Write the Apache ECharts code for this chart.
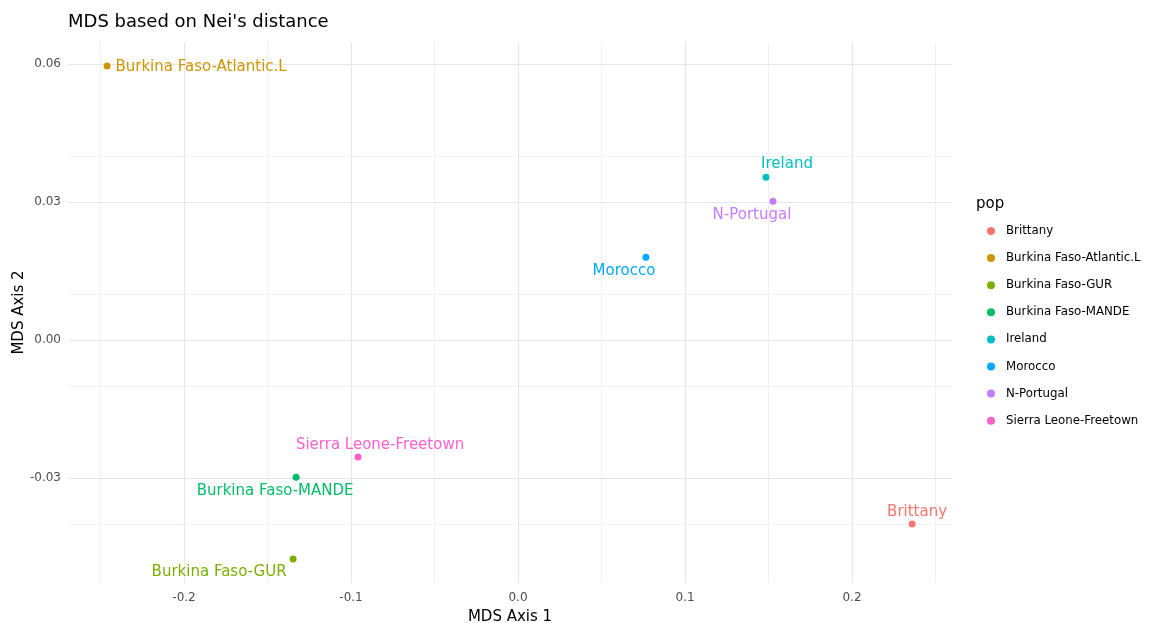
<!DOCTYPE html>
<html>
<head>
<meta charset="utf-8">
<script src="https://cdn.jsdelivr.net/npm/echarts@6/dist/echarts.min.js"></script>
<style>html,body{margin:0;padding:0;background:#fff}#c{width:1158px;height:623px}</style>
</head>
<body>
<div id="c"></div>
<script>
var populations = ["Brittany","Burkina Faso-Atlantic.L","Burkina Faso-GUR","Burkina Faso-MANDE","Ireland","Morocco","N-Portugal","Sierra Leone-Freetown"];
var axis1 = [0.236, -0.2461, -0.1347, -0.1329, 0.1485, 0.0766, 0.1527, -0.0958];
var axis2 = [-0.0400, 0.0596, -0.0476, -0.0298, 0.0354, 0.0180, 0.0302, -0.0254];
var xMajorTicks = [-0.2, -0.1, 0.0, 0.1, 0.2];
var xMinorTicks = [-0.25, -0.15, -0.05, 0.05, 0.15, 0.25];
var yMajorTicks = [-0.03, 0.00, 0.03, 0.06];
var yMinorTicks = [-0.045, -0.015, 0.015, 0.045];

var colors = ["#F8766D","#CD9600","#7CAE00","#00BE67","#00BFC4","#00A9FF","#C77CFF","#FF61CC"];
// label centre offsets (px) relative to each point, mimicking ggrepel placement
var labelOffsets = [[5,-12],[94,1],[-74,13],[-21,14],[21,-13],[-22,14],[-21,14],[22,-12]];
var FONT = "DejaVu Sans";

var gridLines = [];
xMinorTicks.forEach(function(v){ gridLines.push({xAxis:v, lineStyle:{color:"#f1f1f1", width:1, type:"solid"}}); });
yMinorTicks.forEach(function(v){ gridLines.push({yAxis:v, lineStyle:{color:"#f1f1f1", width:1, type:"solid"}}); });
xMajorTicks.forEach(function(v){ gridLines.push({xAxis:v, lineStyle:{color:"#e6e6e6", width:1.2, type:"solid"}}); });
yMajorTicks.forEach(function(v){ gridLines.push({yAxis:v, lineStyle:{color:"#e6e6e6", width:1.2, type:"solid"}}); });

var series = [{
  type: "scatter", data: [], silent: true, z: 1,
  markLine: { silent: true, symbol: ["none","none"], label: {show:false}, animation:false, data: gridLines }
}];
populations.forEach(function(p, i){
  series.push({
    name: p, type: "scatter", z: 5,
    symbol: "circle", symbolSize: 7,
    itemStyle: {color: colors[i], opacity: 1},
    data: [[axis1[i], axis2[i]]],
    label: {
      show: true, formatter: p, position: "inside", align: "center", verticalAlign: "middle",
      offset: labelOffsets[i], color: colors[i], opacity: 1, fontFamily: FONT, fontSize: 15
    }
  });
});

var chart = echarts.init(document.getElementById("c"), null, {renderer: "canvas"});
chart.setOption({
  animation: false,
  backgroundColor: "#ffffff",
  title: [
    {text: "MDS based on Nei's distance", left: 63, top: 8, textStyle: {fontFamily: FONT, fontSize: 18, fontWeight: "normal", color: "#000"}},
    {text: "pop", left: 971, top: 192, textStyle: {fontFamily: FONT, fontSize: 15, fontWeight: "normal", color: "#000"}}
  ],
  grid: {left: 68, right: 206, top: 42, bottom: 40, containLabel: false, outerBoundsMode: "none"},
  legend: {
    orient: "vertical", left: 982, top: 220, itemGap: 15.1, itemWidth: 8, itemHeight: 14,
    icon: "circle", data: populations,
    textStyle: {fontFamily: FONT, fontSize: 11.8, color: "#000", padding: [0,0,0,6]}
  },
  xAxis: {
    type: "value", min: -0.2695, max: 0.2599,
    name: "MDS Axis 1", nameLocation: "middle", nameGap: 27, nameMoveOverlap: false,
    nameTextStyle: {fontFamily: FONT, fontSize: 15, color: "#000"},
    axisLine: {show: false}, axisTick: {show: false}, splitLine: {show: false},
    axisLabel: {customValues: xMajorTicks, formatter: function(v){ return v.toFixed(1); }, fontFamily: FONT, fontSize: 12, color: "#4d4d4d", margin: 9}
  },
  yAxis: {
    type: "value", min: -0.0528, max: 0.0648,
    name: "MDS Axis 2", nameLocation: "middle", nameGap: 41, nameMoveOverlap: false,
    nameTextStyle: {fontFamily: FONT, fontSize: 15, color: "#000"},
    axisLine: {show: false}, axisTick: {show: false}, splitLine: {show: false},
    axisLabel: {customValues: yMajorTicks, formatter: function(v){ return v.toFixed(2); }, fontFamily: FONT, fontSize: 12, color: "#4d4d4d", margin: 7}
  },
  series: series
});
</script>
</body>
</html>
